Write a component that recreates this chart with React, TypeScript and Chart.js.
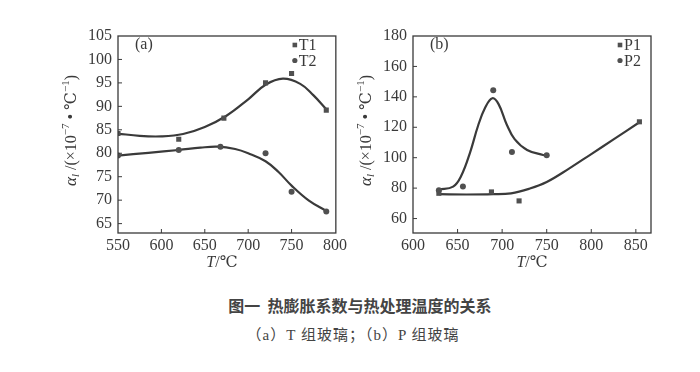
import React, { useEffect, useRef } from "react";
import { Chart, registerables } from "chart.js";
Chart.register(...registerables);

// ---------- Panel (a): T group ----------
const T_X_TICKS = [550, 600, 650, 700, 750, 800];
const T_Y_TICKS = [65, 70, 75, 80, 85, 90, 95, 100, 105];
const T1_X = [550, 620, 672, 720, 750, 790];
const T1_Y = [84.2, 83, 87.5, 95, 97, 89.2];
const T2_X = [550, 620, 668, 720, 750, 790];
const T2_Y = [79.5, 80.7, 81.4, 80, 71.8, 67.6];
const T1_FIT_X = [550, 575, 600, 625, 650, 675, 700, 720, 740, 760, 775, 790];
const T1_FIT_Y = [84.2, 83.7, 83.6, 84.1, 85.6, 88, 91.5, 94.6, 95.9, 94.8, 92.4, 89.4];
const T2_FIT_X = [550, 585, 620, 645, 665, 685, 700, 720, 735, 750, 770, 790];
const T2_FIT_Y = [79.5, 80.1, 80.7, 81.2, 81.4, 80.9, 80, 78.3, 76, 73.1, 69.9, 67.7];

// ---------- Panel (b): P group ----------
const P_X_TICKS = [600, 650, 700, 750, 800, 850];
const P_Y_TICKS = [60, 80, 100, 120, 140, 160, 180];
const P1_X = [629, 688, 719, 854];
const P1_Y = [76.6, 77.5, 71.6, 123.6];
const P2_X = [629, 656, 690, 711, 750];
const P2_Y = [78.6, 81, 144.4, 103.8, 101.6];
const P1_FIT_X = [629, 660, 690, 710, 730, 750, 775, 800, 825, 854];
const P1_FIT_Y = [76, 75.8, 76, 76.6, 79.5, 84, 92.8, 102.4, 112, 123.3];
const P2_FIT_X = [629, 645, 654, 664, 673, 681, 689, 696, 705, 714, 728, 746, 750];
const P2_FIT_Y = [79, 81, 88, 103.4, 121, 133, 139.1, 135.2, 122, 112.2, 105.1, 101.8, 101.5];

const INK = "#3a3a3a";
const MARK = "#505050";
const SERIF = "'Liberation Serif', 'DejaVu Serif', serif";

const pts = (xs: number[], ys: number[]) => xs.map((x, i) => ({ x, y: ys[i] }));

type Run = { t: string; size: number; italic?: boolean; dy?: number };

function runsWidth(ctx: CanvasRenderingContext2D, runs: Run[]) {
  let w = 0;
  for (const r of runs) {
    ctx.font = `${r.italic ? "italic " : ""}${r.size}px ${SERIF}`;
    w += ctx.measureText(r.t).width;
  }
  return w;
}
function drawRuns(ctx: CanvasRenderingContext2D, runs: Run[], cx: number, cy: number) {
  const w = runsWidth(ctx, runs);
  let x = cx - w / 2;
  ctx.textBaseline = "middle";
  ctx.textAlign = "left";
  for (const r of runs) {
    ctx.font = `${r.italic ? "italic " : ""}${r.size}px ${SERIF}`;
    ctx.fillText(r.t, x, cy + (r.dy || 0));
    x += ctx.measureText(r.t).width;
  }
}

const Y_TITLE: Run[] = [
  { t: "α", size: 17, italic: true },
  { t: "l", size: 11, italic: true, dy: 4 },
  { t: " /(×10", size: 16 },
  { t: "−7", size: 11, dy: -6 },
  { t: " • ℃", size: 16 },
  { t: "−1", size: 11, dy: -6 },
  { t: ")", size: 16 },
];
const X_TITLE: Run[] = [
  { t: "T", size: 16, italic: true },
  { t: "/℃", size: 16 },
];

const decorPlugin = {
  id: "decor",
  afterDraw(chart: any, _args: any, opts: any) {
    const ctx: CanvasRenderingContext2D = chart.ctx;
    const a = chart.chartArea;
    const xs = chart.scales.x;
    const ys = chart.scales.y;
    ctx.save();
    ctx.strokeStyle = INK;
    ctx.lineWidth = 1.3;
    ctx.strokeRect(a.left, a.top, a.right - a.left, a.bottom - a.top);
    ctx.lineWidth = 1;
    ctx.beginPath();
    for (const t of xs.ticks) {
      const px = xs.getPixelForValue(t.value);
      if (px <= a.left + 1 || px >= a.right - 1) continue;
      ctx.moveTo(px, a.bottom);
      ctx.lineTo(px, a.bottom - 4);
    }
    for (const t of ys.ticks) {
      const py = ys.getPixelForValue(t.value);
      if (py <= a.top + 1 || py >= a.bottom - 1) continue;
      ctx.moveTo(a.left, py);
      ctx.lineTo(a.left + 4, py);
    }
    ctx.stroke();
    ctx.fillStyle = INK;
    ctx.font = `16px ${SERIF}`;
    ctx.textBaseline = "middle";
    ctx.textAlign = "left";
    ctx.fillText(opts.label, a.left + 17, a.top + 9);
    opts.legend.forEach((item: any, i: number) => {
      const lx = a.right - opts.legendOffset;
      const ly = a.top + 9 + i * 15.5;
      ctx.fillStyle = MARK;
      if (item.style === "rect") {
        ctx.fillRect(lx - 2.3, ly - 2.3, 4.6, 4.6);
      } else {
        ctx.beginPath();
        ctx.arc(lx, ly, 2.6, 0, Math.PI * 2);
        ctx.fill();
      }
      ctx.fillStyle = INK;
      ctx.font = `16px ${SERIF}`;
      ctx.textAlign = "left";
      ctx.textBaseline = "middle";
      ctx.fillText(item.text, lx + 4, ly + 1);
    });
    ctx.fillStyle = INK;
    drawRuns(ctx, X_TITLE, (a.left + a.right) / 2 - opts.xTitleShift, a.bottom + 30);
    ctx.save();
    ctx.translate(opts.yTitleX, (a.top + a.bottom) / 2 - 4);
    ctx.rotate(-Math.PI / 2);
    drawRuns(ctx, Y_TITLE, 0, 0);
    ctx.restore();
    ctx.restore();
  },
};

function makeConfig(p: any) {
  const tickFont = { family: SERIF, size: 16 };
  const scatter = (label: string, data: any, style: string, r: number) => ({
    type: "scatter",
    label,
    data,
    pointStyle: style,
    pointRadius: r,
    pointBackgroundColor: MARK,
    pointBorderColor: MARK,
    pointBorderWidth: 0,
    showLine: false,
    order: 1,
  });
  const fit = (data: any) => ({
    type: "line",
    data,
    borderColor: INK,
    borderWidth: 2.2,
    pointRadius: 0,
    tension: 0.4,
    fill: false,
    order: 2,
  });
  return {
    type: "scatter",
    data: {
      datasets: [
        fit(p.fit1),
        fit(p.fit2),
        scatter(p.names[0], p.s1, "rect", 3.6),
        scatter(p.names[1], p.s2, "circle", 3),
      ],
    },
    options: {
      responsive: false,
      animation: false,
      devicePixelRatio: 1,
      layout: { padding: p.padding },
      plugins: {
        legend: { display: false },
        tooltip: { enabled: false },
        decor: {
          label: p.label,
          legend: [
            { text: p.names[0], style: "rect" },
            { text: p.names[1], style: "circle" },
          ],
          legendOffset: p.legendOffset,
          yTitleX: p.yTitleX,
          xTitleShift: p.xTitleShift,
        },
      },
      scales: {
        x: {
          type: "linear",
          min: p.xMin,
          max: p.xMax,
          afterBuildTicks: (s: any) => {
            s.ticks = p.xTicks.map((v: number) => ({ value: v }));
          },
          afterFit: (s: any) => {
            s.height = 40;
          },
          grid: { display: false, drawTicks: false },
          border: { display: false },
          ticks: { font: tickFont, color: INK, padding: 3, maxRotation: 0 },
        },
        y: {
          type: "linear",
          min: p.yMin,
          max: p.yMax,
          afterBuildTicks: (s: any) => {
            s.ticks = p.yTicks.map((v: number) => ({ value: v }));
          },
          afterFit: (s: any) => {
            s.width = 58;
          },
          grid: { display: false, drawTicks: false },
          border: { display: false },
          ticks: { font: tickFont, color: INK, padding: 6 },
        },
      },
    },
    plugins: [decorPlugin],
  };
}

const PANEL_A = {
  label: "(a)",
  names: ["T1", "T2"],
  s1: pts(T1_X, T1_Y),
  s2: pts(T2_X, T2_Y),
  fit1: pts(T1_FIT_X, T1_FIT_Y),
  fit2: pts(T2_FIT_X, T2_FIT_Y),
  xTicks: T_X_TICKS,
  yTicks: T_Y_TICKS,
  xMin: 550,
  xMax: 801,
  yMin: 63,
  yMax: 105,
  padding: { left: 60, top: 36, right: 8, bottom: 7 },
  legendOffset: 41,
  yTitleX: 72,
  xTitleShift: 5,
};
const PANEL_B = {
  label: "(b)",
  names: ["P1", "P2"],
  s1: pts(P1_X, P1_Y),
  s2: pts(P2_X, P2_Y),
  fit1: pts(P1_FIT_X, P1_FIT_Y),
  fit2: pts(P2_FIT_X, P2_FIT_Y),
  xTicks: P_X_TICKS,
  yTicks: P_Y_TICKS,
  xMin: 600,
  xMax: 867,
  yMin: 50.5,
  yMax: 180,
  padding: { left: 5, top: 36, right: 49, bottom: 7 },
  legendOffset: 31,
  yTitleX: 17,
  xTitleShift: 0,
};

function Panel({ cfg, left }: { cfg: any; left: number }) {
  const ref = useRef<HTMLCanvasElement | null>(null);
  useEffect(() => {
    if (!ref.current) return;
    const chart = new Chart(ref.current, makeConfig(cfg) as any);
    return () => chart.destroy();
  }, [cfg]);
  return (
    <canvas
      ref={ref}
      width={350}
      height={280}
      style={{ position: "absolute", left, top: 0, width: 350, height: 280 }}
    />
  );
}

export default function App() {
  return (
    <div
      style={{
        position: "absolute",
        left: 0,
        top: 0,
        width: 700,
        height: 372,
        background: "#ffffff",
        overflow: "hidden",
      }}
    >
      <Panel cfg={PANEL_A} left={0} />
      <Panel cfg={PANEL_B} left={350} />
      <div
        style={{
          position: "absolute",
          left: 0,
          width: 720,
          top: 293,
          textAlign: "center",
          fontFamily: "'Noto Sans CJK SC', sans-serif",
          fontWeight: 700,
          fontSize: 16,
          color: "#444",
          lineHeight: "24px",
          whiteSpace: "pre",
        }}
      >
        {"图一  热膨胀系数与热处理温度的关系"}
      </div>
      <div
        style={{
          position: "absolute",
          left: 0,
          width: 706,
          top: 324,
          textAlign: "center",
          fontFamily: "'Liberation Serif', 'Noto Sans CJK SC', serif",
          fontSize: 15,
          color: "#444",
          lineHeight: "22px",
          whiteSpace: "pre",
          letterSpacing: 1,
        }}
      >
        {"（a）T 组玻璃；（b）P 组玻璃"}
      </div>
    </div>
  );
}
